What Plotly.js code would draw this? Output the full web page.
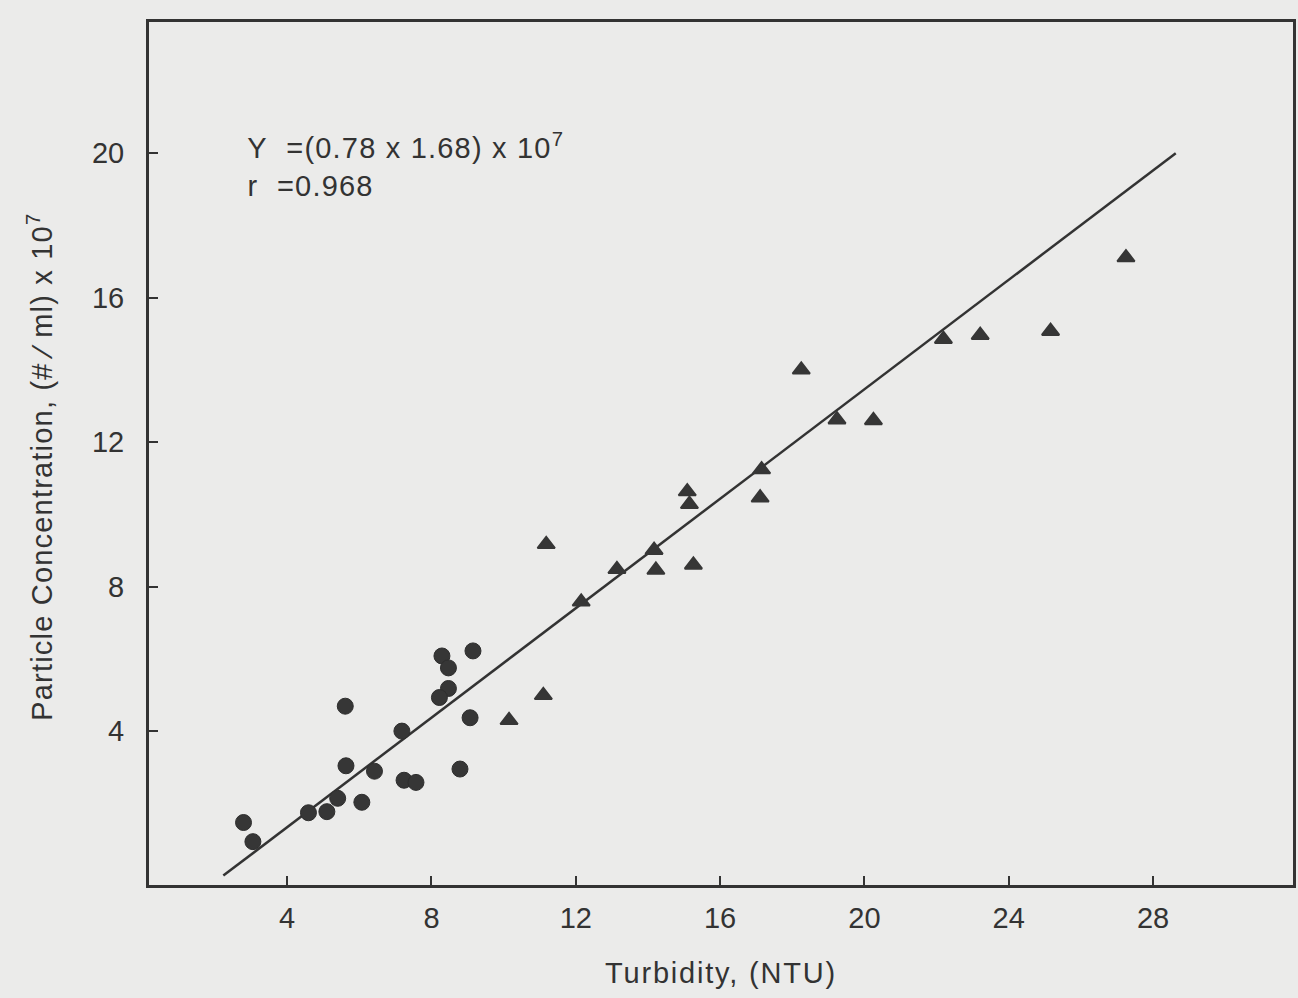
<!DOCTYPE html>
<html>
<head>
<meta charset="utf-8">
<script src="https://cdn.plot.ly/plotly-3.0.1.min.js"></script>
<style>
html,body{margin:0;padding:0;background:#ebebea;}
#chart{width:1298px;height:998px;}
.g-xtitle text{letter-spacing:1.8px;}
.annotation-text-g text{letter-spacing:1.2px;}
</style>
</head>
<body>
<div id="chart"></div>
<script>
// Circles (lower turbidity samples)
var circleX = [2.79, 3.05, 4.59, 5.10, 5.40, 6.07, 5.63, 5.61, 6.42, 7.18, 7.24, 7.57, 8.29, 8.47, 8.47, 8.22, 9.15, 9.07, 8.79];
var circleY = [1.47, 0.94, 1.74, 1.77, 2.14, 2.03, 3.04, 4.69, 2.89, 4.00, 2.64, 2.58, 6.08, 5.75, 5.18, 4.93, 6.22, 4.37, 2.95];
// Triangles (higher turbidity samples)
var triX = [10.15, 11.10, 11.18, 12.15, 13.14, 14.17, 14.22, 15.09, 15.15, 15.26, 17.15, 17.11, 18.25, 19.24, 20.25, 22.19, 23.21, 25.16, 27.25];
var triY = [4.30, 4.99, 9.17, 7.58, 8.48, 9.01, 8.46, 10.63, 10.28, 8.60, 11.24, 10.46, 14.00, 12.62, 12.60, 14.85, 14.96, 15.07, 17.11];
// Regression line end points
var lineX = [2.23, 28.63];
var lineY = [0, 20];

var xTicks = [4, 8, 12, 16, 20, 24, 28];
var yTicks = [4, 8, 12, 16, 20];

var ink = '#333333';
var font = {family: 'Liberation Sans, Arial, sans-serif', size: 29, color: ink};

var traces = [
  {x: lineX, y: lineY, mode: 'lines', type: 'scatter', line: {color: ink, width: 2.5}, hoverinfo: 'skip'},
  {x: circleX, y: circleY, mode: 'markers', type: 'scatter',
   marker: {symbol: 'circle', size: 16, color: '#363636', line: {color: '#2e2e2e', width: 1}}},
  {x: triX, y: triY, mode: 'markers', type: 'scatter',
   marker: {symbol: 'triangle-up', size: 15, color: '#363636', line: {color: '#363636', width: 2}}}
];

var layout = {
  width: 1298, height: 998,
  paper_bgcolor: '#ebebea', plot_bgcolor: '#ebebea',
  showlegend: false,
  margin: {l: 149, r: 5, t: 22, b: 113},
  font: font,
  xaxis: {
    range: [0.17, 31.88], tickvals: xTicks, ticktext: xTicks.map(String),
    ticks: 'inside', ticklen: 9, tickwidth: 2, tickcolor: ink,
    showline: true, linecolor: ink, linewidth: 3, mirror: true,
    showgrid: false, zeroline: false, ticklabelstandoff: 5,
    tickfont: font,
    title: {text: 'Turbidity, (NTU)', font: font, standoff: 30}
  },
  yaxis: {
    range: [-0.26, 23.63], tickvals: yTicks, ticktext: yTicks.map(String),
    ticks: 'inside', ticklen: 9, tickwidth: 2, tickcolor: ink,
    showline: true, linecolor: ink, linewidth: 3, mirror: true,
    showgrid: false, zeroline: false, ticklabelstandoff: 16,
    tickfont: font
  },
  annotations: [
    {xref: 'paper', yref: 'paper', x: (259 - 149) / 1144, y: (885 - 146) / 863, xanchor: 'left', yanchor: 'middle',
     text: 'Y\u00a0\u00a0=(0.78 x 1.68) x 10<sup>7</sup>', showarrow: false, font: font},
    {xref: 'paper', yref: 'paper', x: (251 - 149) / 1144, y: (885 - 186) / 863, xanchor: 'left', yanchor: 'middle',
     text: 'r\u00a0\u00a0=0.968', showarrow: false, font: font},
    {xref: 'paper', yref: 'paper', x: (40 - 149) / 1144, y: (885 - 467) / 863, xanchor: 'center', yanchor: 'middle',
     textangle: -90, text: 'Particle Concentration, (# \u2215 ml) x 10<sup>7</sup>', showarrow: false, font: font}
  ]
};

Plotly.newPlot('chart', traces, layout, {displayModeBar: false, staticPlot: true});
</script>
</body>
</html>
